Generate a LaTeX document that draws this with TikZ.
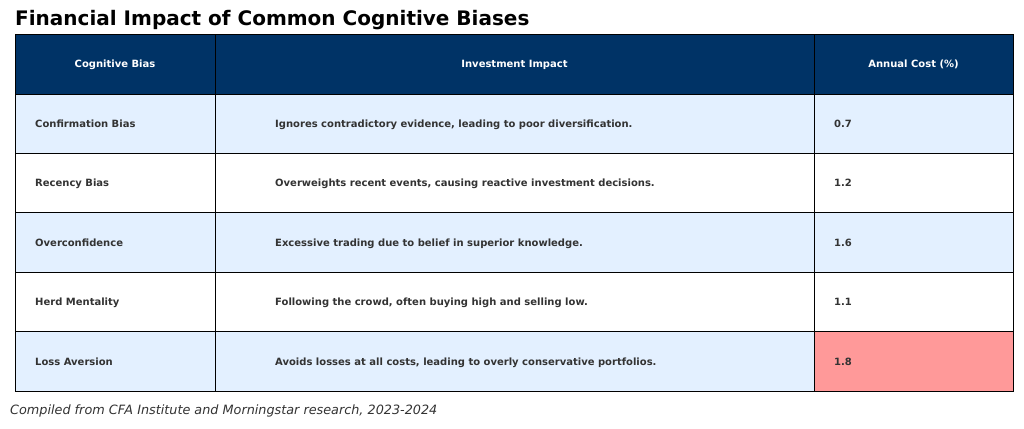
\documentclass[tikz,border=0pt]{standalone}
\usepackage{fontspec}
\setmainfont{DejaVu Sans}
\usetikzlibrary{positioning}
\definecolor{navy}{HTML}{003366}
\definecolor{rowblue}{HTML}{E3F0FF}
\definecolor{lossred}{HTML}{FF9999}
\definecolor{txt}{HTML}{333333}
\tikzset{
  cell/.style={draw=black,line width=0.9pt},
  headtxt/.style={text=white,anchor=base,inner sep=0pt,font=\bfseries\fontsize{10}{12}\selectfont},
  bodytxt/.style={text=txt,anchor=base west,font=\bfseries\fontsize{10}{12}\selectfont,inner sep=0pt}
}
\begin{document}
\begin{tikzpicture}[x=1pt,y=-1pt]
\useasboundingbox (0,0) rectangle (1024,428);
\node[anchor=base west,inner sep=0pt,font=\bfseries\fontsize{20}{24}\selectfont] (title) at (15,26) {Financial Impact of Common Cognitive Biases};
% header
\fill[navy] (15,34) rectangle (1013,94);
\draw[cell] (15,34) rectangle (215,94) (215,34) rectangle (814,94) (814,34) rectangle (1013,94);
\node[headtxt] (h1) at (115,67.5) {Cognitive Bias};
\node[headtxt] (h2) at (514.5,67.5) {Investment Impact};
\node[headtxt] (h3) at (913.5,67.5) {Annual Cost (\%)};
% body rows
\foreach \i/\bias/\impact/\cost/\bg in {
  0/Confirmation Bias/{Ignores contradictory evidence, leading to poor diversification.}/0.7/rowblue,
  1/Recency Bias/{Overweights recent events, causing reactive investment decisions.}/1.2/white,
  2/Overconfidence/{Excessive trading due to belief in superior knowledge.}/1.6/rowblue,
  3/Herd Mentality/{Following the crowd, often buying high and selling low.}/1.1/white,
  4/Loss Aversion/{Avoids losses at all costs, leading to overly conservative portfolios.}/1.8/rowblue}{
  \pgfmathsetmacro{\top}{94+59.4*\i}
  \pgfmathsetmacro{\bot}{\top+59.4}
  \pgfmathsetmacro{\mid}{\top+33.4}
  \fill[\bg] (15,\top) rectangle (1013,\bot);
  \ifnum\i=4 \fill[lossred] (814,\top) rectangle (1013,\bot); \fi
  \draw[cell] (15,\top) rectangle (215,\bot) (215,\top) rectangle (814,\bot) (814,\top) rectangle (1013,\bot);
  \node[bodytxt] (bias\i) at (35,\mid) {\bias};
  \node[bodytxt] (impact\i) at (275,\mid) {\impact};
  \node[bodytxt] (cost\i) at (834,\mid) {\cost};
}
\node[anchor=base west,inner sep=0pt,text=txt,font=\itshape\fontsize{12.8}{15}\selectfont] (note) at (10,414.5) {Compiled from CFA Institute and Morningstar research, 2023-2024};
\end{tikzpicture}
\end{document}
